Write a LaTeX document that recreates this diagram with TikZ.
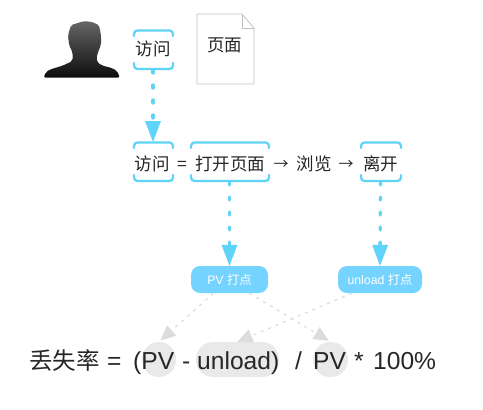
\documentclass[tikz,border=0pt]{standalone}
\usepackage{fontspec}
\setmainfont{Liberation Sans}
\newfontfamily\cjk{Noto Sans CJK SC}
\usetikzlibrary{arrows.meta,calc}
\definecolor{cy}{HTML}{5FD4F8}
\definecolor{pill}{HTML}{74D4FF}
\definecolor{gr}{HTML}{E9E9E9}
\definecolor{grl}{HTML}{DCDCDC}
\tikzset{
 brk/.style={draw=cy,line width=2.3pt,rounded corners=3.5pt,line cap=round},
 txt/.style={inner sep=0pt,anchor=base,font=\cjk\fontsize{17.5}{17.5}\selectfont,text=black!85},
 pillbox/.style={fill=pill,rounded corners=9pt,minimum height=27pt,inner sep=0pt,text=white,font=\fontsize{12.3}{12.3}\selectfont},
 hl/.style={fill=gr,minimum height=35pt,rounded corners=17pt,inner sep=0pt},
 ftok/.style={inner sep=0pt,anchor=base west,font=\fontsize{24.6}{24.6}\selectfont,text=black!85},
 cyarrow/.style={draw=cy,line width=3.3pt,line cap=round,dash pattern=on 3pt off 12pt,-{Triangle[width=16pt,length=21pt,fill=cy,line width=0pt]}},
 grarrow/.style={draw=grl,line width=1.2pt,dash pattern=on 3pt off 5pt,-{Triangle[width=14pt,length=15pt,fill=grl,line width=0pt]}}
}
\begin{document}
\begin{tikzpicture}[x=1pt,y=-1pt]
\useasboundingbox (0,0) rectangle (483,410);
% person
\shade[top color=black!60,bottom color=black!95,rounded corners=2pt]
 (43.5,77.5) -- (46,72) -- (50,69.5) -- (63,65.5) -- (72.5,61) -- (72.5,52) -- (69,45) -- (68,35) -- (71,25)
 -- (78,23) -- (84,21) -- (92,22) -- (99,25) -- (101,35) -- (101,45) -- (98,52) -- (96.5,58) -- (97,62)
 -- (102,65.5) -- (112,68) -- (117,71) -- (120,77.5) -- cycle;
% page
\draw[draw=black!25,line width=.8pt,line join=round] (197,14) -- (242,14) -- (254,28) -- (254,84) -- (197,84) -- cycle;
\draw[draw=black!25,line width=.8pt] (242,14) -- (242,28) -- (254,28);
\node[txt] (pagelabel) at (224.5,51) {页面};
% first word
\node[txt] (v1) at (153,55) {访问};
\coordinate (b1) at (153,70);
\draw[brk] (134,36) -- (134,30.5) -- (173,30.5) -- (173,36);
\draw[brk] (134,63) -- (134,69) -- (173,69) -- (173,63);
% row
\node[txt] (v2) at (152,170) {访问};
\node[txt] (eq) at (182,170) {=};
\node[txt] (open) at (230,170) {打开页面};
\node[txt,font=\cjk\fontsize{15}{15}\selectfont] (a1) at (281,169) {→};
\node[txt] (browse) at (314,170) {浏览};
\node[txt,font=\cjk\fontsize{15}{15}\selectfont] (a2) at (346,169) {→};
\node[txt] (leave) at (380.5,170) {离开};
\draw[brk] (134,148) -- (134,142.5) -- (173,142.5) -- (173,148);
\draw[brk] (134,175) -- (134,181) -- (173,181) -- (173,175);
\draw[brk] (191,148) -- (191,142.5) -- (269,142.5) -- (269,148);
\draw[brk] (191,175) -- (191,181) -- (269,181) -- (269,175);
\draw[brk] (361,148) -- (361,142.5) -- (401,142.5) -- (401,148);
\draw[brk] (361,175) -- (361,181) -- (401,181) -- (401,175);
\coordinate (t1) at (153,142);
\coordinate (b2) at (229.5,182);
\coordinate (b3) at (380.5,182);
% pills
\node[pillbox,minimum width=77pt] (pv) at (229.5,279.5) {PV {\cjk 打点}};
\node[pillbox,minimum width=84pt] (ul) at (380,279.5) {unload {\cjk 打点}};
% highlights
\node[hl,minimum width=34pt] (c1) at (159,359.5) {};
\node[hl,minimum width=83pt] (c2) at (237.5,359.5) {};
\node[hl,minimum width=35pt] (c3) at (330.5,359.5) {};
% formula
\node[ftok,font=\cjk\fontsize{23.5}{23.5}\selectfont] (f1) at (29,369) {丢失率};
\node[ftok] (f2) at (107,369) {=};
\node[ftok] (f3) at (133,369) {(PV};
\node[ftok] (f4) at (182,369) {-};
\node[ftok] (f5) at (197,369) {unload)};
\node[ftok] (f6) at (295,369) {/};
\node[ftok] (f7) at (313,369) {PV};
\node[ftok] (f8) at (354,369) {*};
\node[ftok] (f9) at (373,369) {100\%};
% connectors
\draw[cyarrow] (b1) -- (t1);
\draw[cyarrow] (b2) -- (pv.north);
\draw[cyarrow] (b3) -- (ul.north);
\draw[grarrow,shorten >=2pt] ($(pv.south)+(-16,0)$) -- (c1.north);
\draw[grarrow,shorten >=2pt] ($(pv.south)+(20,0)$) -- (c3.north);
\draw[grarrow] ($(ul.south)+(-28,0)$) -- (c2.north);
\end{tikzpicture}
\end{document}
